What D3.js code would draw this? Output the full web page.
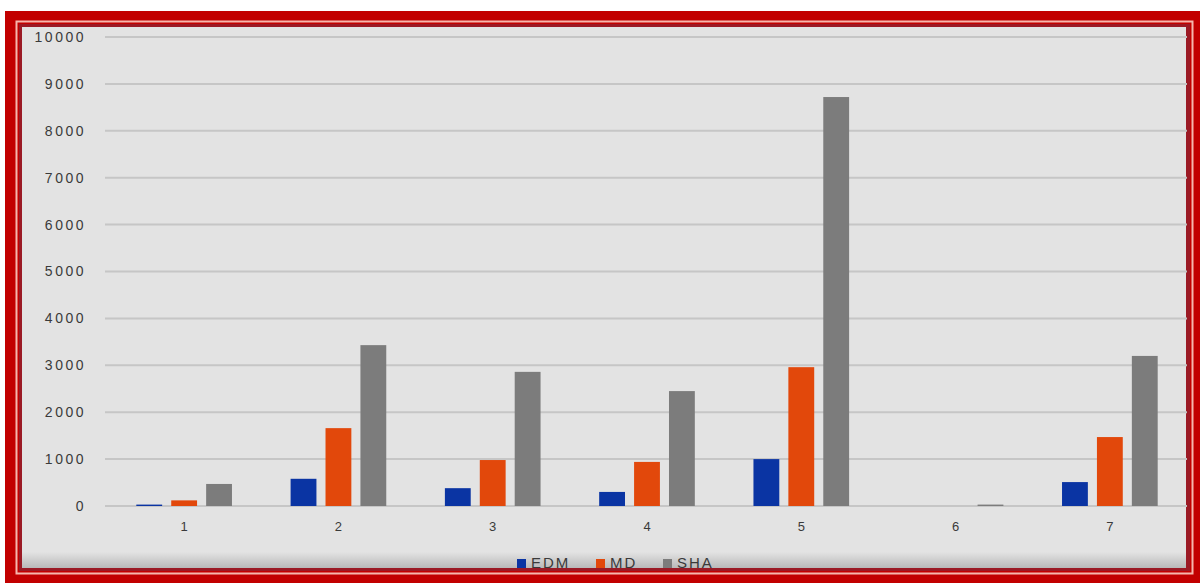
<!DOCTYPE html>
<html>
<head>
<meta charset="utf-8">
<script src="https://cdn.jsdelivr.net/npm/d3@7"></script>
<style>
  body { margin: 0; background: #fff; }
  svg { display: block; }
</style>
</head>
<body>
<svg id="chart"></svg>
<script>
// data
const categories = ["1", "2", "3", "4", "5", "6", "7"];
const seriesNames = ["EDM", "MD", "SHA"];
const edm = [30, 580, 380, 300, 1000, 0, 510];
const md = [120, 1660, 980, 940, 2960, 0, 1470];
const sha = [470, 3430, 2860, 2450, 8720, 30, 3200];
const yTicks = [0, 1000, 2000, 3000, 4000, 5000, 6000, 7000, 8000, 9000, 10000];
const colors = ["#0a34a3", "#e2480b", "#7c7c7c"];

const width = 1200, height = 583;
const margin = {top: 37, right: 13, bottom: 77, left: 107};
const plotW = width - margin.left - margin.right;
const plotH = height - margin.top - margin.bottom;

const svg = d3.select("#chart").attr("width", width).attr("height", height);

const defs = svg.append("defs");
const bevel = defs.append("linearGradient").attr("id", "bevel")
    .attr("x1", 0).attr("y1", 0).attr("x2", 0).attr("y2", 1);
bevel.append("stop").attr("offset", "0%").attr("stop-color", "#e3e3e3");
bevel.append("stop").attr("offset", "100%").attr("stop-color", "#b9b9b9");

// frame: red outer band, thin light line, dark shadow, grey panel
svg.append("rect").attr("x", 5).attr("y", 11).attr("width", 1195).attr("height", 572)
    .attr("fill", "#c20000");
svg.append("rect").attr("x", 16.5).attr("y", 21.5).attr("width", 1176).attr("height", 552)
    .attr("fill", "none").attr("stroke", "#f6b7ad").attr("stroke-width", 2);
svg.append("rect").attr("x", 19).attr("y", 24).attr("width", 1171).attr("height", 547)
    .attr("fill", "#9b1a25");
svg.append("rect").attr("x", 22).attr("y", 27).attr("width", 1164).attr("height", 541)
    .attr("fill", "#e3e3e3");
// soft bottom bevel
svg.append("rect").attr("x", 22).attr("y", 552).attr("width", 1164).attr("height", 16)
    .attr("fill", "url(#bevel)");

const g = svg.append("g").attr("transform", "translate(" + margin.left + "," + margin.top + ")");

const x0 = d3.scaleBand().domain(categories).range([0, plotW]).paddingInner(0.38).paddingOuter(0.19);
const x1 = d3.scaleBand().domain(seriesNames).range([0, x0.bandwidth()]).paddingInner(0.26);
const y = d3.scaleLinear().domain([0, 10000]).range([plotH, 0]);

// gridlines
g.append("g")
    .selectAll("line")
    .data(yTicks)
    .enter().append("line")
    .attr("x1", -2).attr("x2", plotW)
    .attr("y1", d => y(d)).attr("y2", d => y(d))
    .attr("stroke", "#c6c6c6").attr("stroke-width", 2);

// y axis labels
const leftAxis = d3.axisLeft(y).tickValues(yTicks).tickSize(0).tickPadding(21).tickFormat(d3.format("d"));
g.append("g")
    .call(leftAxis)
    .call(a => a.select(".domain").remove())
    .selectAll("text")
    .attr("fill", "#3a3a3a")
    .style("font-family", "'Liberation Sans', Arial, sans-serif")
    .style("font-size", "14px")
    .style("letter-spacing", "2.5px");

// bars
const series = [edm, md, sha];
g.append("g")
    .selectAll("g")
    .data(categories)
    .enter().append("g")
    .attr("transform", d => "translate(" + x0(d) + ",0)")
    .selectAll("rect")
    .data((d, i) => seriesNames.map((key, k) => ({key: key, value: series[k][i], k: k})))
    .enter().append("rect")
    .attr("x", d => x1(d.key))
    .attr("y", d => y(d.value))
    .attr("width", x1.bandwidth())
    .attr("height", d => plotH - y(d.value))
    .attr("fill", d => colors[d.k]);

// x axis labels
const bottomAxis = d3.axisBottom(x0).tickSize(0).tickPadding(16);
g.append("g")
    .attr("transform", "translate(0," + plotH + ")")
    .call(bottomAxis)
    .call(a => a.select(".domain").remove())
    .selectAll("text")
    .attr("fill", "#3a3a3a")
    .style("font-family", "'Liberation Sans', Arial, sans-serif")
    .style("font-size", "13px");

// legend
const legendX = [517, 596, 663];
const legend = svg.append("g")
    .selectAll("g")
    .data(seriesNames)
    .enter().append("g")
    .attr("transform", (d, i) => "translate(" + legendX[i] + ",563)");
legend.append("rect")
    .attr("x", 0).attr("y", -4)
    .attr("width", 9).attr("height", 9)
    .attr("fill", (d, i) => colors[i]);
legend.append("text")
    .attr("x", 14).attr("y", 1)
    .attr("dominant-baseline", "middle")
    .attr("fill", "#3a3a3a")
    .style("font-family", "'Liberation Sans', Arial, sans-serif")
    .style("font-size", "15px")
    .style("letter-spacing", "2px")
    .text(d => d);
</script>
</body>
</html>
